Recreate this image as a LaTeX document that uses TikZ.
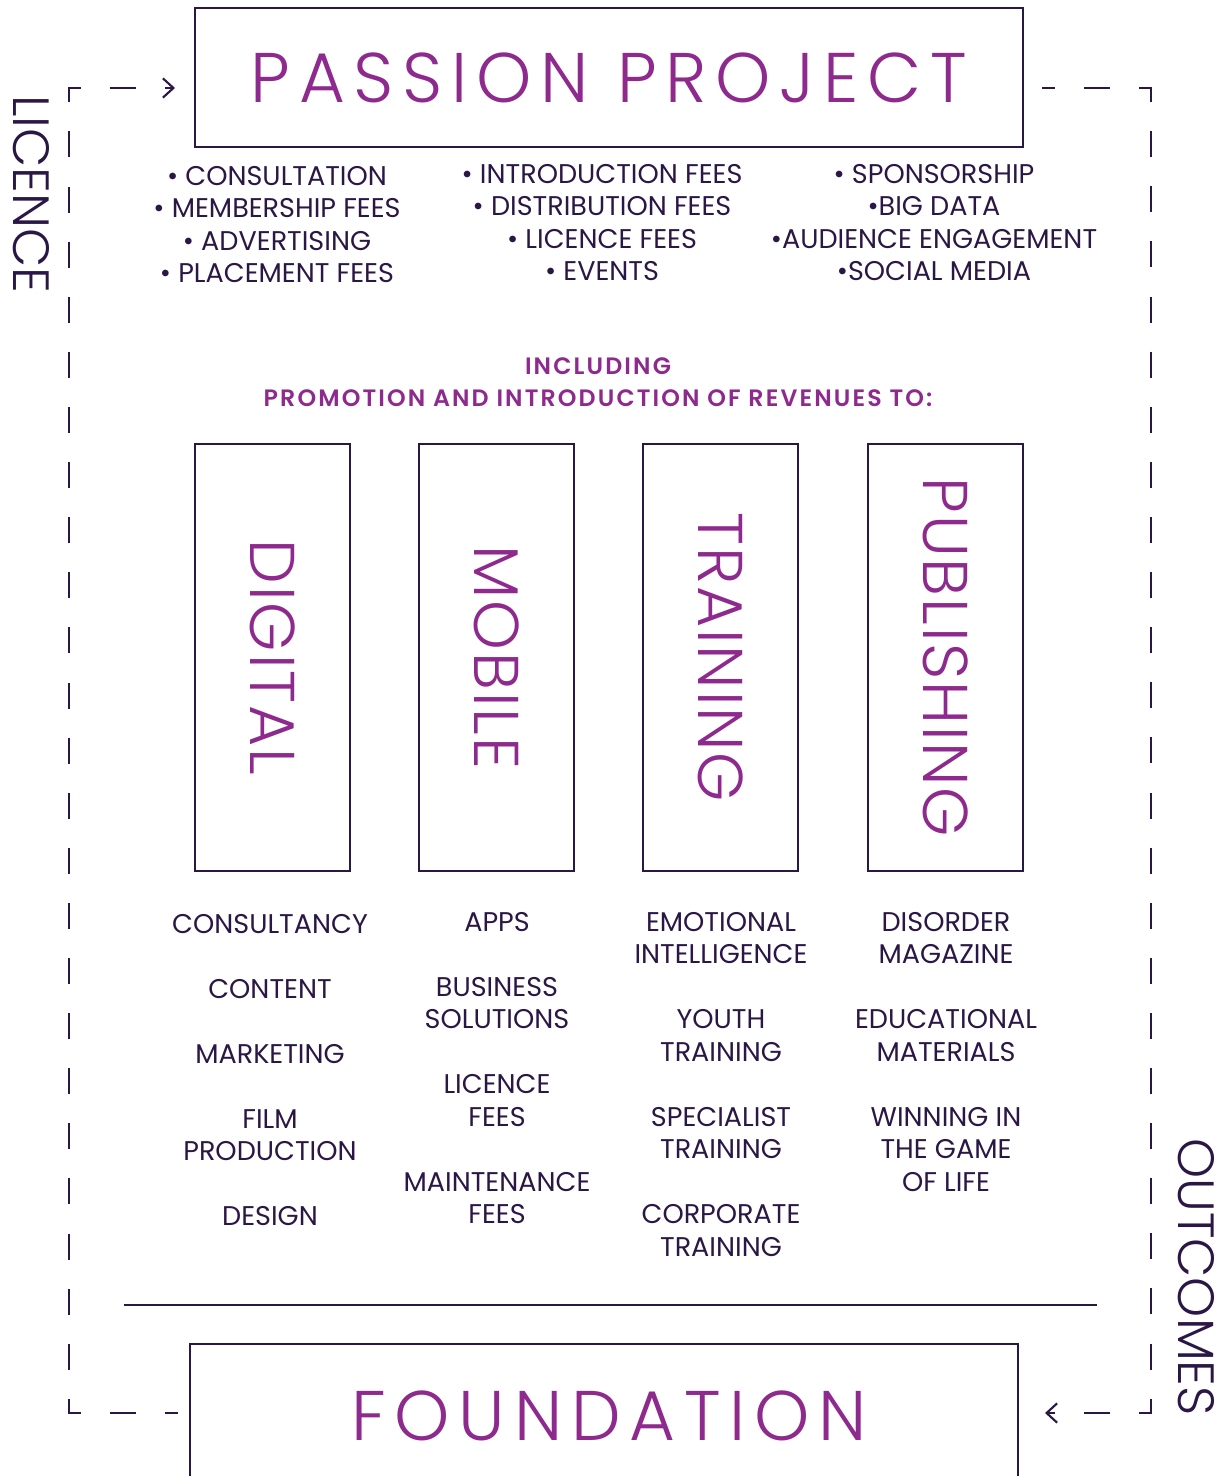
\documentclass[tikz,border=0pt]{standalone}
\usepackage{fontspec}
\setmainfont{Poppins}
\newfontfamily\thinfont{Poppins Light}
\newfontfamily\widefont{Poppins Light}[LetterSpace=12.5]
\newfontfamily\labelfont{Poppins Light}[LetterSpace=3]
\newfontfamily\headfont{Poppins SemiBold}[LetterSpace=9]
\usetikzlibrary{arrows.meta,positioning}

\definecolor{plum}{HTML}{8E2A8E}
\definecolor{ink}{HTML}{2B1745}
\newdimen\pxu \pxu=0.02cm

\tikzset{
  frame/.style={draw=ink, line width=1.3pt, inner sep=0pt},
  flow/.style={draw=ink, line width=1.2pt, dash pattern=on 26\pxu off 29.1\pxu, dash phase=13\pxu,
    -{Straight Barb[length=6pt,width=11pt]}},
  title/.style={text=plum, font=\widefont\fontsize{40}{44}\selectfont, inner sep=0pt},
  colbox/.style={frame, rotate=-90, minimum width=427\pxu, minimum height=155\pxu,
    text=plum, font=\labelfont\fontsize{36}{40}\selectfont},
  side/.style={text=ink, rotate=-90, inner sep=0pt, font=\thinfont\fontsize{29}{32}\selectfont},
  revenues/.style={text=ink, align=center, anchor=north, inner sep=0pt,
    font=\fontsize{15.4}{18.5}\selectfont},
  outlets/.style={text=ink, align=center, anchor=north, inner sep=0pt,
    font=\fontsize{15.4}{18.5}\selectfont},
}

\begin{document}
\begin{tikzpicture}[x=0.02cm, y=-0.02cm]
\useasboundingbox (0,0) rectangle (1228,1476);

% top block
\node[frame, title, minimum width=828\pxu, minimum height=139\pxu] (pp) at (609,77.5) {PASSION PROJECT};

\node[revenues] (rev1) at (277,166) {• CONSULTATION\\• MEMBERSHIP FEES\\• ADVERTISING\\• PLACEMENT FEES};
\node[revenues] (rev2) at (602,164) {• INTRODUCTION FEES\\• DISTRIBUTION FEES\\• LICENCE FEES\\• EVENTS};
\node[revenues] (rev3) at (934,164) {• SPONSORSHIP\\•BIG DATA\\•AUDIENCE ENGAGEMENT\\•SOCIAL MEDIA};

\node[text=plum, align=center, font=\headfont\fontsize{13.5}{18.5}\selectfont, inner sep=0pt] (incl) at (598,382)
  {INCLUDING\\PROMOTION AND INTRODUCTION OF REVENUES TO:};

% the four streams
\node[colbox] (digital) at (272.5,657.5) {DIGITAL};
\node[colbox] (mobile) at (496.5,657.5) {MOBILE};
\node[colbox] (training) at (720.5,657.5) {TRAINING};
\node[colbox] (publishing) at (945.5,657.5) {PUBLISHING};

\node[outlets] (digitalList) at (270,914) {CONSULTANCY\\[18.5pt]CONTENT\\[18.5pt]MARKETING\\[18.5pt]FILM\\PRODUCTION\\[18.5pt]DESIGN};
\node[outlets] (mobileList) at (497,912) {APPS\\[18.5pt]BUSINESS\\SOLUTIONS\\[18.5pt]LICENCE\\FEES\\[18.5pt]MAINTENANCE\\FEES};
\node[outlets] (trainingList) at (721,912) {EMOTIONAL\\INTELLIGENCE\\[18.5pt]YOUTH\\TRAINING\\[18.5pt]SPECIALIST\\TRAINING\\[18.5pt]CORPORATE\\TRAINING};
\node[outlets] (publishingList) at (946,912) {DISORDER\\MAGAZINE\\[18.5pt]EDUCATIONAL\\MATERIALS\\[18.5pt]WINNING IN\\THE GAME\\OF LIFE};

% bottom block
\draw[ink, line width=1.3pt] (124,1305) -- (1097,1305);
\begin{scope}
\clip (0,0) rectangle (1228,1476);
\node[frame, minimum width=828\pxu, minimum height=200\pxu] (fbox) at (604,1444) {};
\end{scope}
\node[title] (found) at (609,1416) {FOUNDATION};

% loop between the two blocks
\node[side] (licence) at (31,194) {LICENCE};
\node[side] (outcomes) at (1196,1277) {OUTCOMES};
\coordinate (licA) at (178,1413);
\coordinate (licB) at (175,88);
\coordinate (outA) at (1042,88);
\coordinate (outB) at (1045,1413);
\draw[flow] (licA) -| (69,88) -- (licB);
\draw[flow] (outA) -| (1151,1413) -- (outB);

\end{tikzpicture}
\end{document}
